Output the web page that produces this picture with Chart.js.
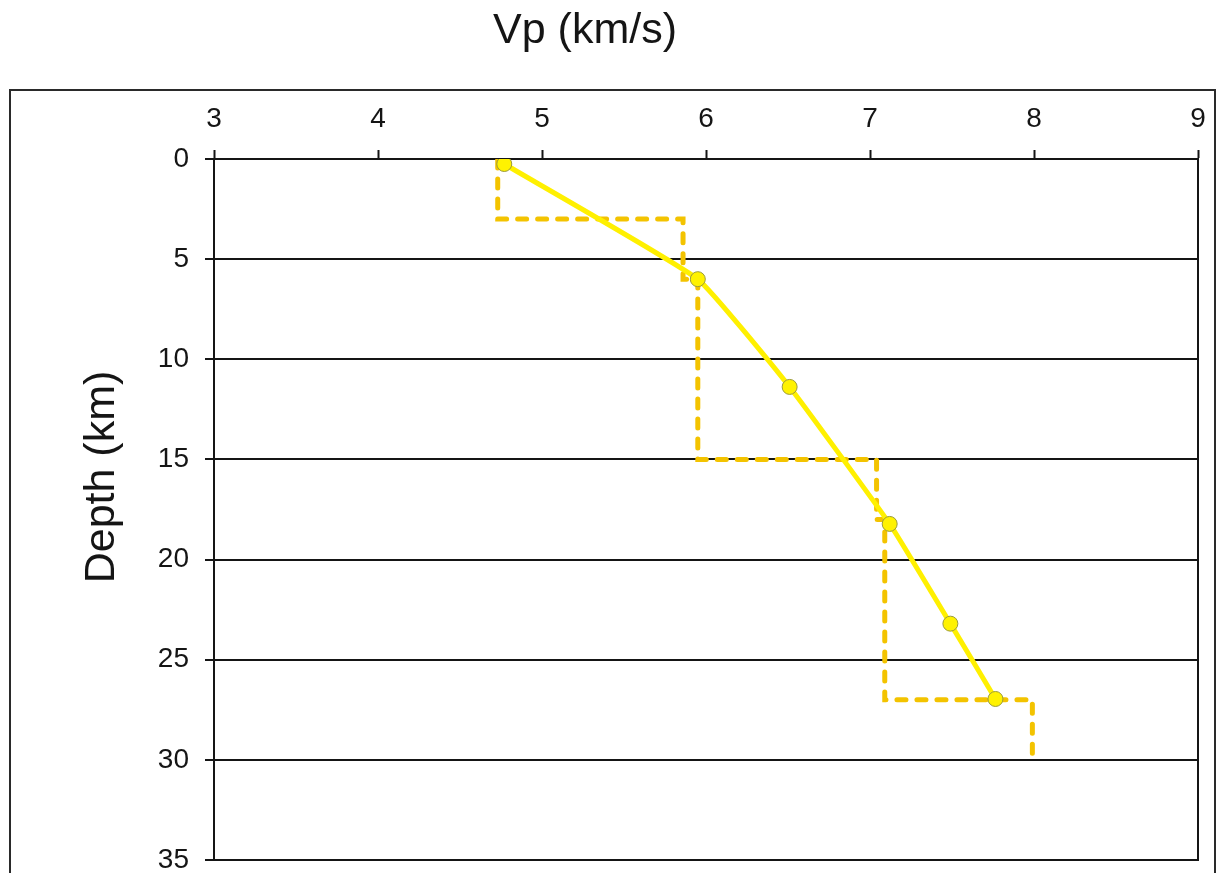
<!DOCTYPE html>
<html>
<head>
<meta charset="utf-8">
<script src="https://cdn.jsdelivr.net/npm/chart.js@4"></script>
<style>
  html, body { margin: 0; padding: 0; background: #fff; overflow: hidden; width: 1217px; height: 873px; }
  #frame { position: absolute; left: 9px; top: 89px; width: 1207px; height: 900px; box-sizing: border-box; border: 2px solid #2a2a2a; }
  #c { position: absolute; left: 0; top: 0; }
  .ttl { position: absolute; font-family: 'Liberation Sans', Arial, Helvetica, sans-serif; font-size: 43px; color: #151515;
         height: 50px; line-height: 50px; text-align: center; white-space: nowrap; }
  #xt { left: 0; top: 3px; width: 1170px; }
  #yt { left: -51.5px; top: 452px; width: 300px; transform: rotate(-90deg); }
</style>
</head>
<body>
<div id="frame"></div>
<canvas id="c" width="1217" height="873"></canvas>
<div class="ttl" id="xt">Vp (km/s)</div>
<div class="ttl" id="yt">Depth (km)</div>
<script>
// Smooth Vp profile (measured points)
const profileVp    = [4.77, 5.95, 6.51, 7.12, 7.49, 7.765];
const profileDepth = [0.25, 6.0, 11.38, 18.22, 23.2, 26.96];

// Layered (step) model
const layerVp    = [4.73, 4.73, 5.86, 5.86, 5.95, 5.95, 7.04, 7.04, 7.09, 7.09, 7.99, 7.99];
const layerDepth = [0,    3,    3,    6,    6,    15,   15,   18,   18,   27,   27,   30];

// Axis ticks
const vpTicks    = [3, 4, 5, 6, 7, 8, 9];
const depthTicks = [0, 5, 10, 15, 20, 25, 30, 35];

const FONT = "'Liberation Sans', Arial, Helvetica, sans-serif";
const INK = '#151515';

const toPts = (xs, ys) => xs.map((x, i) => ({ x: x, y: ys[i] }));

new Chart(document.getElementById('c'), {
  type: 'line',
  data: {
    datasets: [
      {
        label: 'profile',
        data: toPts(profileVp, profileDepth),
        borderColor: '#FFF000',
        borderWidth: 5,
        tension: 0.12,
        pointRadius: 7.5,
        pointBackgroundColor: '#FFF200',
        pointBorderColor: '#9a9a3c',
        pointBorderWidth: 1,
        order: 0
      },
      {
        label: 'layers',
        data: toPts(layerVp, layerDepth),
        borderColor: '#F3C300',
        borderWidth: 5,
        borderDash: [9, 11],
        borderCapStyle: 'round',
        borderJoinStyle: 'miter',
        tension: 0,
        pointRadius: 0,
        order: 1
      }
    ]
  },
  options: {
    responsive: false,
    animation: false,
    events: [],
    layout: { padding: { left: 0, top: 0, right: 0, bottom: 13 } },
    plugins: { legend: { display: false }, tooltip: { enabled: false } },
    scales: {
      x: {
        type: 'linear',
        position: 'top',
        min: 3, max: 9,
        afterBuildTicks: (s) => { s.ticks = vpTicks.map(v => ({ value: v })); },
        afterFit: (s) => { s.height = 159; s.paddingLeft = 0; s.paddingRight = 0; },
        ticks: { color: INK, font: { family: FONT, size: 28 }, padding: 14, maxRotation: 0 },
        grid: { drawOnChartArea: false, drawTicks: true, tickLength: 9, tickWidth: 2, color: INK },
        border: { display: true, color: INK, width: 2 },
        title: { display: false }
      },
      y: {
        type: 'linear',
        position: 'left',
        reverse: true,
        min: 0, max: 35,
        afterBuildTicks: (s) => { s.ticks = depthTicks.map(v => ({ value: v })); },
        afterFit: (s) => { s.width = 214; s.paddingTop = 0; s.paddingBottom = 0; },
        ticks: { color: INK, font: { family: FONT, size: 28 }, padding: 16 },
        grid: { drawOnChartArea: true, drawTicks: true, tickLength: 9, lineWidth: 2, tickWidth: 2, color: INK },
        border: { display: true, color: INK, width: 2 },
        title: { display: false }
      },
      y2: {
        type: 'linear',
        position: 'right',
        reverse: true,
        min: 0, max: 35,
        afterFit: (s) => { s.width = 19; s.paddingTop = 0; s.paddingBottom = 0; },
        ticks: { display: false },
        grid: { display: false, drawOnChartArea: false, drawTicks: false },
        border: { display: true, color: INK, width: 2 }
      }
    }
  }
});
</script>
</body>
</html>
